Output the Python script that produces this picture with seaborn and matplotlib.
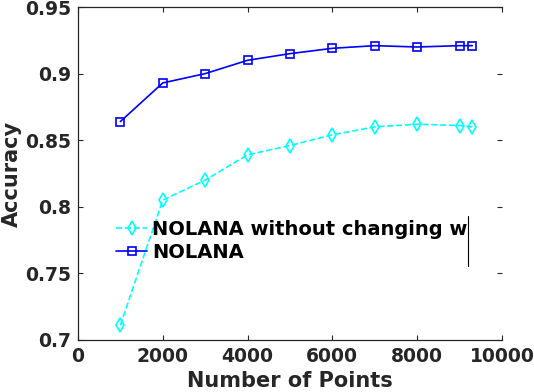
import matplotlib
matplotlib.use('Agg')
import matplotlib.pyplot as plt
import seaborn as sns

points = [1000, 2000, 3000, 4000, 5000, 6000, 7000, 8000, 9000, 9300]
acc_nolana = [0.864, 0.893, 0.900, 0.910, 0.915, 0.919, 0.921, 0.920, 0.921, 0.921]
acc_no_w = [0.711, 0.805, 0.820, 0.839, 0.846, 0.854, 0.860, 0.862, 0.861, 0.860]
x_ticks = [0, 2000, 4000, 6000, 8000, 10000]
y_ticks = [0.7, 0.75, 0.8, 0.85, 0.9, 0.95]
y_tick_labels = ['0.7', '0.75', '0.8', '0.85', '0.9', '0.95']


def plot_accuracy():
    sns.set_style('ticks')
    plt.rcParams['font.family'] = ['DejaVu Sans']
    plt.rcParams['font.weight'] = 'bold'

    fig = plt.figure(figsize=(5.34, 3.92), dpi=100)
    ax = fig.add_axes([0.146, 0.133, 0.794, 0.849])

    sns.lineplot(x=points, y=acc_no_w, ax=ax, color='#00FFFF', linestyle='--',
                 linewidth=1.2, marker='d', markersize=7.5, markerfacecolor='none',
                 markeredgecolor='#00FFFF', markeredgewidth=1.2,
                 label='NOLANA without changing w')
    sns.lineplot(x=points, y=acc_nolana, ax=ax, color='#0000FF', linestyle='-',
                 linewidth=1.2, marker='s', markersize=6, markerfacecolor='none',
                 markeredgecolor='#0000FF', markeredgewidth=1.2, label='NOLANA')

    ax.set_xlim(0, 10000)
    ax.set_ylim(0.7, 0.95)
    ax.set_xticks(x_ticks)
    ax.set_yticks(y_ticks)
    ax.set_yticklabels(y_tick_labels)
    ax.tick_params(direction='in', length=3.5, width=0.8, top=True, right=True,
                   labelsize=13.5, colors='#262626', pad=5)
    for lab in ax.get_xticklabels() + ax.get_yticklabels():
        lab.set_fontweight('bold')
    for side in ['left', 'bottom', 'top']:
        ax.spines[side].set_color('#262626')
        ax.spines[side].set_linewidth(0.9)
    ax.spines['right'].set_visible(False)

    ax.set_xlabel('Number of Points', fontsize=15, fontweight='bold', color='#262626', labelpad=4)
    ax.set_ylabel('Accuracy', fontsize=15, fontweight='bold', color='#262626', labelpad=2)

    leg = ax.legend(loc='upper left', bbox_to_anchor=(0.09, 0.36), frameon=False,
                    borderpad=0, borderaxespad=0, handlelength=1.6, handletextpad=0.25,
                    labelspacing=0.2, prop={'size': 14, 'weight': 'bold'})
    for t in leg.get_texts():
        t.set_color('black')
    # right edge of the (otherwise invisible) legend box
    ax.plot([0.92, 0.92], [0.222, 0.372], transform=ax.transAxes, color='black',
            linewidth=0.8, clip_on=False)

    fig.savefig('out.png', dpi=100)


if __name__ == '__main__':
    plot_accuracy()
